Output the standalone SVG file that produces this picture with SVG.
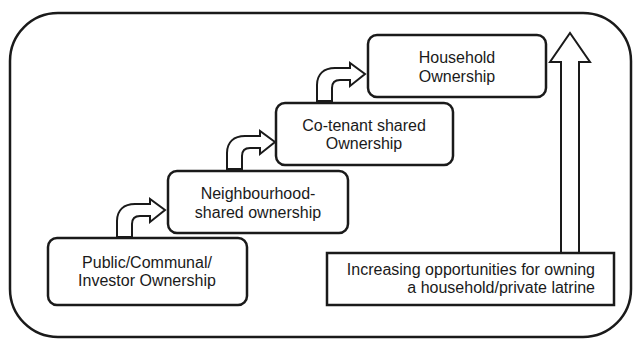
<svg xmlns="http://www.w3.org/2000/svg" width="640" height="341" viewBox="0 0 640 341">
  <defs>
    <style>
      .frame { fill: none; stroke: #1a1a1a; stroke-width: 2.5; }
      .box { fill: #ffffff; stroke: #1a1a1a; stroke-width: 2.5; }
      .step { fill: #ffffff; stroke: #1a1a1a; stroke-width: 2; stroke-linejoin: miter; }
      .label { font-family: "Liberation Sans", Arial, sans-serif; font-size: 16px; fill: #1a1a1a; }
    </style>
    <!-- bent step arrow: origin at bottom-left of its shaft -->
    <path id="stepArrow" d="M0,0 V-16 C0,-27 7,-33 18,-33 H33 V-38 L48,-27 L33,-15 V-21 H23 C18,-21 15,-18 15,-13 V0 Z"/>
  </defs>

  <!-- outer rounded frame -->
  <rect class="frame" x="10" y="13" width="621" height="324" rx="48" ry="48"/>

  <g id="connectors">
    <use href="#stepArrow" class="step" x="117" y="237"/>
    <use href="#stepArrow" class="step" x="227" y="169"/>
    <use href="#stepArrow" class="step" x="317" y="101"/>
    <!-- large upward arrow -->
    <path class="step" d="M561,253 V62 H550 L570,33 L590,62 H579 V253 Z"/>
  </g>

  <g id="node-public">
    <rect class="box" x="48" y="238" width="199" height="67" rx="9"/>
    <text class="label" x="147" y="268" text-anchor="middle">Public/Communal/</text>
    <text class="label" x="147" y="286" text-anchor="middle">Investor Ownership</text>
  </g>

  <g id="node-neighbourhood">
    <rect class="box" x="168" y="171" width="180" height="62" rx="9"/>
    <text class="label" x="258" y="199" text-anchor="middle">Neighbourhood-</text>
    <text class="label" x="258" y="218" text-anchor="middle">shared ownership</text>
  </g>

  <g id="node-cotenant">
    <rect class="box" x="276" y="103" width="177" height="62" rx="9"/>
    <text class="label" x="364" y="131" text-anchor="middle">Co-tenant shared</text>
    <text class="label" x="364" y="149" text-anchor="middle">Ownership</text>
  </g>

  <g id="node-household">
    <rect class="box" x="368" y="35" width="178" height="62" rx="9"/>
    <text class="label" x="457" y="63" text-anchor="middle">Household</text>
    <text class="label" x="457" y="82" text-anchor="middle">Ownership</text>
  </g>

  <g id="node-opportunities">
    <rect class="box" x="327" y="253" width="287" height="52"/>
    <text class="label" x="595" y="275" text-anchor="end">Increasing opportunities for owning</text>
    <text class="label" x="595" y="293" text-anchor="end">a household/private latrine</text>
  </g>
</svg>
